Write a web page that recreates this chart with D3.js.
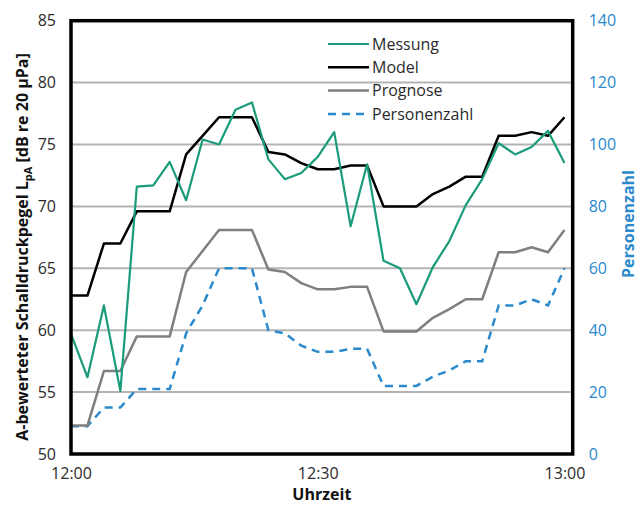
<!DOCTYPE html>
<html>
<head>
<meta charset="utf-8">
<script src="https://cdn.jsdelivr.net/npm/d3@7/dist/d3.min.js"></script>
<style>
  html, body { margin: 0; padding: 0; background: #fff; }
  svg { display: block; font-family: "Open Sans", "Noto Sans", sans-serif; }
</style>
</head>
<body>
<svg id="chart" width="644" height="507"></svg>
<script>
// ---- data (minutes after 12:00, every 2 minutes) ----
const minutes = d3.range(0, 61, 2);
const messung = [59.7, 56.2, 62.0, 55.1, 71.6, 71.7, 73.6, 70.5, 75.4, 75.0, 77.8, 78.4, 73.8, 72.2, 72.7, 74.0, 76.0, 68.4, 73.4, 65.6, 65.0, 62.1, 65.1, 67.2, 70.1, 72.2, 75.1, 74.2, 74.8, 76.1, 73.5];
const model = [62.8, 62.8, 67.0, 67.0, 69.6, 69.6, 69.6, 74.2, 75.7, 77.2, 77.2, 77.2, 74.4, 74.2, 73.5, 73.0, 73.0, 73.3, 73.3, 70.0, 70.0, 70.0, 71.0, 71.6, 72.4, 72.4, 75.7, 75.7, 76.0, 75.7, 77.2];
const prognose = [52.3, 52.3, 56.7, 56.7, 59.5, 59.5, 59.5, 64.7, 66.4, 68.1, 68.1, 68.1, 64.9, 64.7, 63.8, 63.3, 63.3, 63.5, 63.5, 59.9, 59.9, 59.9, 61.0, 61.7, 62.5, 62.5, 66.3, 66.3, 66.7, 66.3, 68.1];
const personenzahl = [9, 9, 15, 15, 21, 21, 21, 39, 48, 60, 60, 60, 40, 39, 35, 33, 33, 34, 34, 22, 22, 22, 25, 27, 30, 30, 48, 48, 50, 48, 60];

const leftTicks = [50, 55, 60, 65, 70, 75, 80, 85];
const gridTicks = [55, 60, 65, 70, 75, 80];
const rightTicks = [0, 20, 40, 60, 80, 100, 120, 140];
const timeTicks = [0, 30, 60];
const timeLabels = ["12:00", "12:30", "13:00"];

const seriesNames = ["Messung", "Model", "Prognose", "Personenzahl"];

// ---- layout ----
const svg = d3.select("#chart");
const L = 71, R = 572.7, T = 20.7, B = 454;

const x = d3.scaleLinear().domain([0, 61]).range([L, R]);
const y = d3.scaleLinear().domain([50, 85]).range([B, T]);
const y2 = d3.scaleLinear().domain([0, 140]).range([B, T]);

const textColor = "#2b2b2b";
const blue = "#2a88cc";

// gridlines
svg.append("g")
  .selectAll("line")
  .data(gridTicks)
  .join("line")
  .attr("x1", L).attr("x2", R)
  .attr("y1", d => y(d)).attr("y2", d => y(d))
  .attr("stroke", "#b4b4b4")
  .attr("stroke-width", 2);

// left axis
const gL = svg.append("g")
  .attr("transform", `translate(${L - 15},0)`)
  .call(d3.axisLeft(y).tickValues(leftTicks).tickSize(0).tickPadding(0));
gL.select(".domain").remove();
gL.selectAll("text").attr("font-size", 16).attr("fill", textColor)
  .attr("font-family", "'Open Sans', sans-serif");

// right axis
const gR = svg.append("g")
  .attr("transform", `translate(${R + 16},0)`)
  .call(d3.axisRight(y2).tickValues(rightTicks).tickSize(0).tickPadding(0));
gR.select(".domain").remove();
gR.selectAll("text").attr("font-size", 16).attr("fill", blue)
  .attr("font-family", "'Open Sans', sans-serif");

// bottom axis
const gB = svg.append("g")
  .attr("transform", `translate(0,${B + 14})`)
  .call(d3.axisBottom(x).tickValues(timeTicks).tickFormat((d, i) => timeLabels[i]).tickSize(0).tickPadding(0));
gB.select(".domain").remove();
gB.selectAll("text").attr("font-size", 16).attr("fill", textColor)
  .attr("font-family", "'Open Sans', sans-serif");

// lines
const lineL = d3.line().x((d, i) => x(minutes[i])).y(d => y(d));
const lineR = d3.line().x((d, i) => x(minutes[i])).y(d => y2(d));

const styles = {
  Messung: { color: "#1a9b7a", width: 2.2, dash: null },
  Model: { color: "#000000", width: 2.5, dash: null },
  Prognose: { color: "#7f7f7f", width: 2.5, dash: null },
  Personenzahl: { color: "#2a88cc", width: 2.5, dash: "8,6" }
};

svg.append("path").datum(personenzahl).attr("d", lineR)
  .attr("fill", "none").attr("stroke", styles.Personenzahl.color)
  .attr("stroke-width", styles.Personenzahl.width).attr("stroke-dasharray", styles.Personenzahl.dash);
svg.append("path").datum(prognose).attr("d", lineL)
  .attr("fill", "none").attr("stroke", styles.Prognose.color).attr("stroke-width", styles.Prognose.width)
  .attr("stroke-linejoin", "round");
svg.append("path").datum(model).attr("d", lineL)
  .attr("fill", "none").attr("stroke", styles.Model.color).attr("stroke-width", styles.Model.width)
  .attr("stroke-linejoin", "round");
svg.append("path").datum(messung).attr("d", lineL)
  .attr("fill", "none").attr("stroke", styles.Messung.color).attr("stroke-width", styles.Messung.width)
  .attr("stroke-linejoin", "round");

// plot border
svg.append("rect")
  .attr("x", L).attr("y", T).attr("width", R - L).attr("height", B - T)
  .attr("fill", "none").attr("stroke", "#000").attr("stroke-width", 3.5);

// legend
const leg = svg.append("g");
seriesNames.forEach((name, i) => {
  const yy = 44 + i * 23.3;
  const s = styles[name];
  leg.append("line")
    .attr("x1", 328).attr("x2", 369).attr("y1", yy).attr("y2", yy)
    .attr("stroke", s.color).attr("stroke-width", s.width)
    .attr("stroke-dasharray", s.dash);
  leg.append("text")
    .attr("x", 372).attr("y", yy).attr("dy", "0.35em")
    .attr("font-size", 16).attr("fill", textColor)
    .text(name);
});

// axis titles
svg.append("text")
  .attr("x", (L + R) / 2).attr("y", 500)
  .attr("text-anchor", "middle")
  .attr("font-size", 16).attr("font-weight", "bold").attr("fill", "#111")
  .text("Uhrzeit");

const yt = svg.append("text")
  .attr("transform", "translate(28,247) rotate(-90)")
  .attr("text-anchor", "middle")
  .attr("font-size", 16).attr("font-weight", "bold").attr("fill", "#111");
yt.append("tspan").text("A-bewerteter Schalldruckpegel L");
yt.append("tspan").attr("font-size", 11).attr("dy", 4).text("pA");
yt.append("tspan").attr("dy", -4).text(" [dB re 20 µPa]");

svg.append("text")
  .attr("transform", "translate(634,224) rotate(-90)")
  .attr("text-anchor", "middle")
  .attr("font-size", 16).attr("font-weight", "bold").attr("fill", blue)
  .text("Personenzahl");
</script>
</body>
</html>
